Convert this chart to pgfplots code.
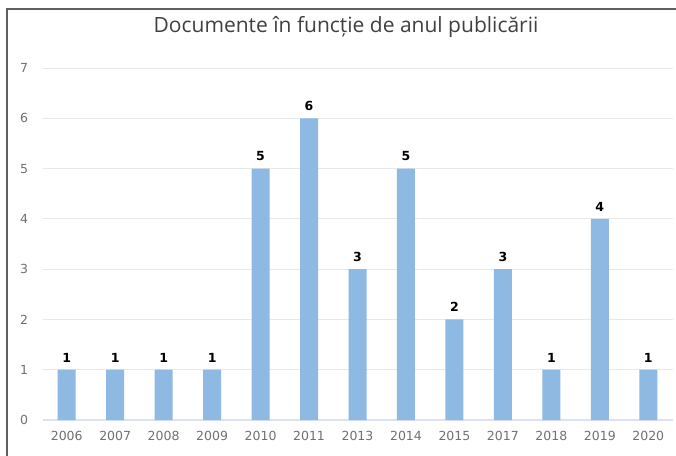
\documentclass[border=0pt]{standalone}
\usepackage{fontspec}
\setmainfont{DejaVu Sans}
\newfontfamily\titlefont{Open Sans}
\usepackage{pgfplots}
\pgfplotsset{compat=1.18}
\definecolor{barblue}{HTML}{8DB9E3}
\definecolor{gridgray}{HTML}{E8E8E8}
\definecolor{ticktext}{HTML}{707070}
\definecolor{titletext}{HTML}{404040}
\definecolor{framegray}{HTML}{606060}
\definecolor{axisblue}{HTML}{D9E1F2}

\begin{document}
\begin{tikzpicture}
  \useasboundingbox (0pt,0pt) rectangle (676pt,455pt);
  \draw[framegray, line width=1.6pt] (7pt,-5pt) -- (7pt,446pt) -- (690pt,446pt);
  \node[titletext, font=\titlefont\fontsize{21}{25}\selectfont] at (346pt,428pt) {Documente în funcție de anul publicării};
  \begin{axis}[
      at={(42.5pt,35pt)}, anchor=south west,
      width=630pt, height=352pt, scale only axis,
      xmin=-0.5, xmax=12.5, ymin=0, ymax=7,
      ytick={0,...,7},
      xtick={0,...,12},
      xticklabels={2006,2007,2008,2009,2010,2011,2013,2014,2015,2017,2018,2019,2020},
      /pgf/number format/assume math mode=true,
      ticklabel style={ticktext, font=\fontsize{12.5}{14}\selectfont},
      yticklabel style={xshift=-11pt},
      xticklabel style={yshift=-8pt},
      major tick length=0pt,
      ymajorgrids, grid style={gridgray, line width=0.8pt},
      axis lines*=left,
      x axis line style={draw=axisblue, line width=1.2pt, -},
      y axis line style={draw=none, -},
      ybar, bar width=18pt,
      nodes near coords,
      every node near coord/.append style={black, font=\bfseries\fontsize{12.5}{14}\selectfont, yshift=4pt},
      clip=false,
    ]
    \addplot[fill=barblue, draw=none] coordinates {
      (0,1) (1,1) (2,1) (3,1) (4,5) (5,6) (6,3) (7,5) (8,2) (9,3) (10,1) (11,4) (12,1)
    };
  \end{axis}
\end{tikzpicture}
\end{document}
